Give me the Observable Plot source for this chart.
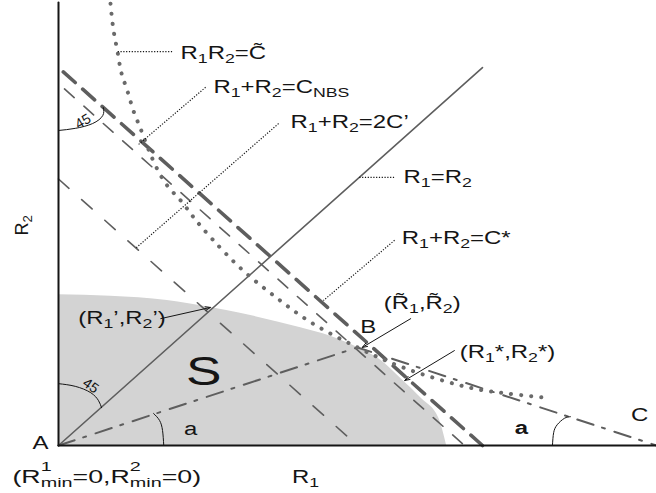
<!DOCTYPE html>
<html><head><meta charset="utf-8">
<script src="https://cdn.jsdelivr.net/npm/d3@7"></script>
<script src="https://cdn.jsdelivr.net/npm/@observablehq/plot@0.6"></script>
<style>html,body{margin:0;padding:0;background:#fff;} #chart svg{display:block;}</style>
</head><body><div id="chart"></div>
<script>
// ---- data (R1, R2 in diagram units) ----
const axisR1 = [[0, 0], [100, 0]];
const axisR2 = [[0, 0], [0, 83.1]];
const equalLine = [[0, 0], [70.9, 70.9]];          // R1 = R2
const nbsLine = [[0.8, 70.1], [70.9, 0]];          // R1 + R2 = C_NBS
const cStarLine = [[1.0, 66.9], [67.9, 0]];        // R1 + R2 = C*
const twoCLine = [[0, 50.0], [50.0, 0]];           // R1 + R2 = 2C'
const abcLine = [[0, 0], [50.0, 18.4], [100, 0]];  // A - B - C
const hyperbola = [[8.7,82.9],[9.2,77.9],[9.9,73.7],[10.5,70.0],[11.5,66.6],[12.5,62.9],[13.7,59.5],[15.1,55.4],[17.6,49.7],[20.4,46.0],[22.6,42.8],[25.9,38.5],[30.9,32.8],[36.6,27.6],[42.5,22.9],[50.0,18.4],[57.7,14.6],[67.1,11.3],[73.9,9.9],[81.1,9.0]];
const regionS = [[0,28.3],[8.7,28.0],[18.2,27.2],[25.4,25.9],[30.4,24.8],[40.5,22.1],[45.5,20.5],[50.0,18.4],[53.9,16.0],[57.2,12.6],[60.7,8.8],[63.6,5.1],[64.9,0]];
const leaders = [
  [[9.9,73.9],[19.1,73.9]],
  [[24.6,67.2],[13.2,56.3]],
  [[36.8,60.4],[12.9,37.0]],
  [[50.3,50.3],[56.2,50.3]],
  [[56.2,38.5],[44.3,27.2]]
];
const pointers = [
  [[17.1,23.8],[25.4,25.9]],
  [[58.9,23.8],[50.8,18.4]],
  [[66.2,17.8],[57.9,12.2]]
];
const arc45Top = [[0,59.1],[2.8,59.5],[5.7,60.4],[7.4,61.9],[7.5,63.4]];
const arc45Bottom = [[0,11.6],[2.8,11.1],[5.4,9.9],[6.7,8.4],[7.2,7.1]];
const arcA = [[17.6,0],[17.4,2.8],[16.9,4.7],[15.9,6.0]];
const arcC = [[82.6,0],[82.8,2.4],[83.4,3.9],[84.6,5.1],[85.6,5.4]];

const formulaLabels = [
  [20.4, 73.6, "R_{1}R_{2}=C\u0303"],
  [25.9, 67.2, "R_{1}+R_{2}=C_{NBS}"],
  [38.8, 60.6, "R_{1}+R_{2}=2C\u2019"],
  [57.7, 50.3, "R_{1}=R_{2}"],
  [57.4, 38.8, "R_{1}+R_{2}=C*"],
  [3.3, 23.8, "(R_{1}\u2019,R_{2}\u2019)"],
  [54.4, 26.6, "(R\u0303_{1},R\u0303_{2})"],
  [67.1, 17.5, "(R_{1}*,R_{2}*)"],
  [-7.7, -6.0, "(R^{1}_{min}=0,R^{2}_{min}=0)"]
];
const pointLabels = [[51.8,22.1,"B"],[97.2,5.6,"C"],[-3.0,0.4,"A"],[22.1,3.0,"a"],[41.3,-6.0,"R_{1}"]];
const boldLabels = [[77.4,3.2,"a"]];
const bigLabels = [[24.3,13.7,"S"]];
const axisLabelsY = [[-6.0,41.3,"R_{2}"]];
const angleLabels = [[4.1,60.8,"45",-30],[5.4,11.2,"45",35]];

// ---- drawing ----
const X = d => d[0], Y = d => d[1];
const seg = {x1: d => d[0][0], y1: d => d[0][1], x2: d => d[1][0], y2: d => d[1][1]};
const gray = "#5e5e5e";
const ink = "#151515";

const svg = Plot.plot({
  width: 656, height: 493,
  marginLeft: 58, marginRight: 0, marginTop: 2.6, marginBottom: 48,
  x: {domain: [0, 100], axis: null},
  y: {domain: [0, 83], axis: null},
  style: {fontFamily: "'Liberation Sans', Arial, sans-serif", background: "#fff", color: ink},
  marks: [
    Plot.areaY(regionS, {x: X, y: Y, fill: "#d3d3d3", curve: "monotone-x"}),
    Plot.line(twoCLine, {x: X, y: Y, stroke: gray, strokeWidth: 1.6, strokeDasharray: "14,17"}),
    Plot.line(cStarLine, {x: X, y: Y, stroke: gray, strokeWidth: 1.6, strokeDasharray: "13,13"}),
    Plot.line(nbsLine, {x: X, y: Y, stroke: gray, strokeWidth: 3.6, strokeDasharray: "16,10"}),
    Plot.line(equalLine, {x: X, y: Y, stroke: gray, strokeWidth: 1.6}),
    Plot.line(abcLine, {x: X, y: Y, stroke: gray, strokeWidth: 2, strokeDasharray: "17,9,3,10"}),
    Plot.line(hyperbola, {x: X, y: Y, stroke: "#6a6a6a", strokeWidth: 4, strokeDasharray: "0.1,10", strokeLinecap: "round", curve: "natural"}),
    Plot.link(leaders, {...seg, stroke: ink, strokeWidth: 1.2, strokeDasharray: "1.2,1.6"}),
    Plot.arrow(pointers, {...seg, stroke: ink, strokeWidth: 1, headLength: 8, headAngle: 40}),
    Plot.line(arc45Top, {x: X, y: Y, stroke: ink, strokeWidth: 1, curve: "natural"}),
    Plot.line(arc45Bottom, {x: X, y: Y, stroke: ink, strokeWidth: 1, curve: "natural"}),
    Plot.line(arcA, {x: X, y: Y, stroke: ink, strokeWidth: 1, curve: "natural"}),
    Plot.line(arcC, {x: X, y: Y, stroke: ink, strokeWidth: 1, curve: "natural"}),
    Plot.line(axisR1, {x: X, y: Y, stroke: ink, strokeWidth: 2}),
    Plot.line(axisR2, {x: X, y: Y, stroke: ink, strokeWidth: 2}),
    Plot.text(formulaLabels, {x: X, y: Y, text: d => d[2], textAnchor: "start", fontSize: 18, fill: ink}),
    Plot.text(pointLabels, {x: X, y: Y, text: d => d[2], fontSize: 18, fill: ink}),
    Plot.text(boldLabels, {x: X, y: Y, text: d => d[2], fontSize: 18, fontWeight: "bold", fill: ink}),
    Plot.text(bigLabels, {x: X, y: Y, text: d => d[2], fontSize: 40, fill: ink}),
    Plot.text(axisLabelsY, {x: X, y: Y, text: d => d[2], fontSize: 18, rotate: -90, fill: ink}),
    Plot.text(angleLabels, {x: X, y: Y, text: d => d[2], rotate: d => d[3], fontSize: 14, fill: ink})
  ]
});
document.getElementById("chart").appendChild(svg);

// rich text: _{..} subscripts, ^{..} superscripts (stacked over a following subscript)
const NS = "http://www.w3.org/2000/svg";
function richify(t) {
  const src = t.textContent;
  if (!/[_^]\{/.test(src)) return;
  const fs = parseFloat(getComputedStyle(t).fontSize);
  const re = /([_^])\{([^}]*)\}|([^_^]+)/g;
  const parts = [];
  let m;
  while ((m = re.exec(src))) parts.push(m[3] != null ? {k: "n", s: m[3]} : {k: m[1], s: m[2]});
  t.textContent = "";
  let cur = 0, prev = null, prevSpan = null;
  for (const p of parts) {
    const span = document.createElementNS(NS, "tspan");
    span.textContent = p.s;
    const target = p.k === "_" ? 0.2 * fs : p.k === "^" ? -0.68 * fs : 0;
    if (p.k !== "n") span.setAttribute("font-size", (0.74 * fs).toFixed(2));
    if (target !== cur) span.setAttribute("dy", (target - cur).toFixed(2));
    cur = target;
    t.appendChild(span);
    if (p.k === "_" && prev === "^") span.setAttribute("dx", (-prevSpan.getComputedTextLength()).toFixed(2));
    prev = p.k; prevSpan = span;
  }
}
const texts = svg.querySelectorAll("text");
texts.forEach(richify);
// the reference lettering is horizontally stretched
texts.forEach(t => {
  const tr = t.getAttribute("transform") || "";
  if (tr.includes("rotate")) return;
  const w = t.getComputedTextLength();
  t.setAttribute("textLength", (w * 1.33).toFixed(1));
  t.setAttribute("lengthAdjust", "spacingAndGlyphs");
});
</script>
</body></html>
